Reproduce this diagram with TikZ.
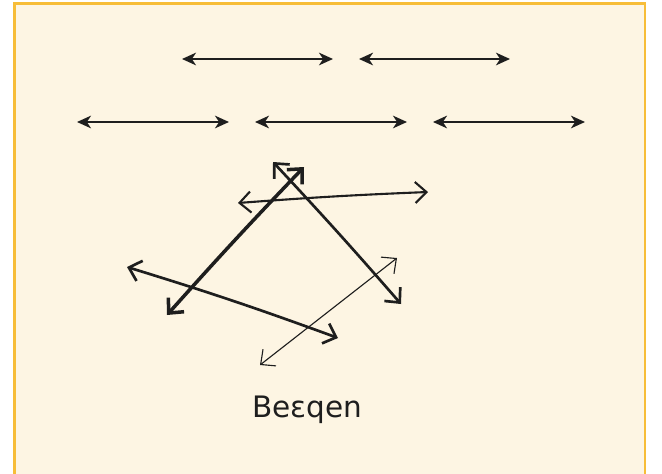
\documentclass[tikz,border=0pt]{standalone}
\usepackage{fontspec}
\newfontfamily\handfont{DejaVu Sans}
\usetikzlibrary{arrows.meta}
\definecolor{paper}{HTML}{FDF5E3}
\definecolor{frameline}{HTML}{F7BD38}
\definecolor{ink}{HTML}{1E1E1E}
\begin{document}
\begin{tikzpicture}[x=0.5mm,y=-0.5mm,
  flat/.style={ink,line width=2.8pt,{Stealth[length=20pt,width=18pt,inset=6pt]}-{Stealth[length=20pt,width=18pt,inset=6pt]}},
  sketch/.style={ink,line cap=round,line join=round,{Straight Barb[length=16pt,width=30pt]}-{Straight Barb[length=16pt,width=30pt]}}]
\useasboundingbox (0,0) rectangle (662,473);
% paper with its frame
\fill[paper] (14.5,3.5) rectangle (645,480);
\draw[frameline,line width=3pt] (14.5,480) -- (14.5,3.5) -- (645,3.5) -- (645,480);
% two rows of straight arrows
\coordinate (t1l) at (182,59); \coordinate (t1r) at (333,59);
\coordinate (t2l) at (359,59); \coordinate (t2r) at (510,59);
\coordinate (b1l) at (77,122); \coordinate (b1r) at (229,122);
\coordinate (b2l) at (255,122); \coordinate (b2r) at (407,122);
\coordinate (b3l) at (433,122); \coordinate (b3r) at (585,122);
\draw[flat] (t1l) -- (t1r);
\draw[flat] (t2l) -- (t2r);
\draw[flat] (b1l) -- (b1r);
\draw[flat] (b2l) -- (b2r);
\draw[flat] (b3l) -- (b3r);
% hand drawn arrows
\coordinate (aLow) at (167,315); \coordinate (aTop) at (304,167);
\coordinate (bTop) at (273,162); \coordinate (bLow) at (401,304);
\coordinate (cLeft) at (238,203); \coordinate (cRight) at (428,192);
\coordinate (dLeft) at (127,267); \coordinate (dRight) at (338,338);
\coordinate (eLow) at (260,365); \coordinate (eTop) at (397,258);
\draw[sketch,line width=5pt] (aLow) to[bend left=1] (aTop);
\draw[sketch,line width=3.8pt] (bTop) to[bend left=1] (bLow);
\draw[sketch,line width=3pt] (cLeft) to[bend left=1] (cRight);
\draw[sketch,line width=3.8pt] (dLeft) to[bend left=1.5] (dRight);
\draw[sketch,line width=1.6pt] (eLow) -- (eTop);
% label
\node[ink,font=\handfont\fontsize{42}{46}\selectfont] (name) at (307,410) {Beɛqen};
\end{tikzpicture}
\end{document}
